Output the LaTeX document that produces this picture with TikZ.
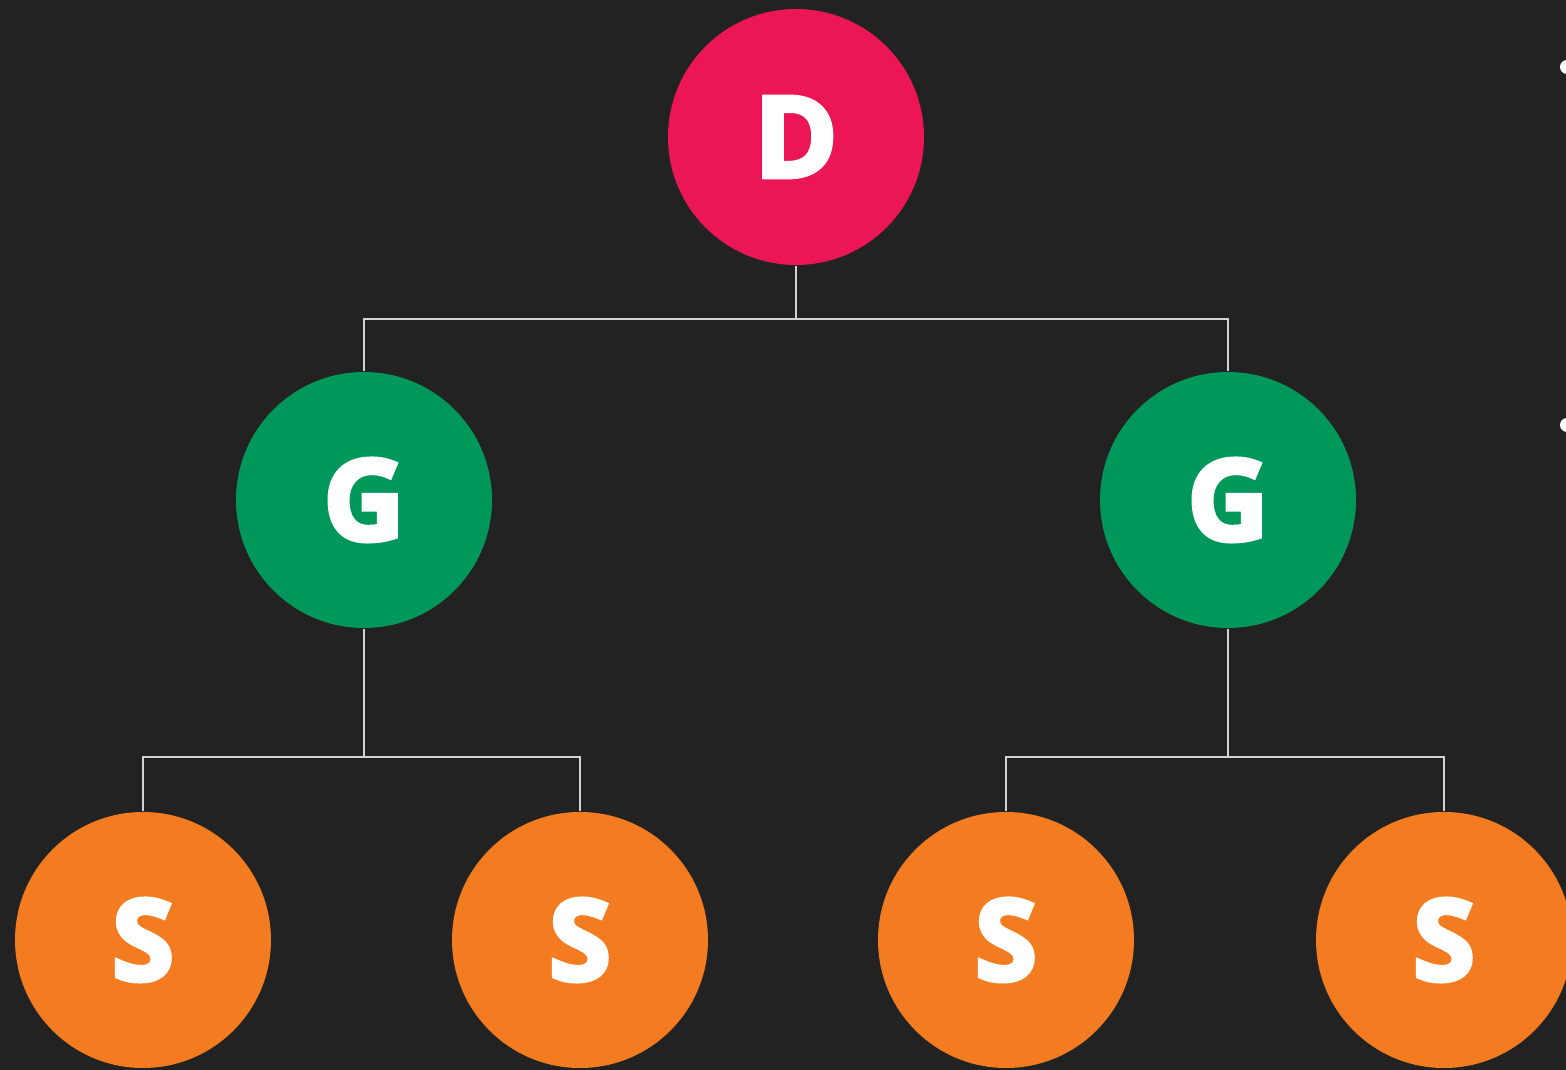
\documentclass[tikz,border=0pt]{standalone}
\usepackage{fontspec}
\setmainfont{Open Sans}
\newfontfamily\ballfont[BoldFeatures={FakeBold=4}]{Open Sans}
\usepackage{tikz}
\usepackage{xcolor}
\definecolor{slidebg}{HTML}{222222}
\definecolor{dred}{HTML}{EC1654}
\definecolor{ggreen}{HTML}{00975B}
\definecolor{sorange}{HTML}{F47C20}
\definecolor{wiregray}{HTML}{D2D2D2}
\tikzset{
  ball/.style={circle,minimum size=2.56cm,inner sep=0pt,text=white,
    font=\ballfont\fontsize{32}{32}\selectfont\bfseries},
  wire/.style={color=wiregray,line width=0.7pt}
}

\begin{document}
\begin{tikzpicture}
          \fill[slidebg] (0,0) rectangle (15.66,10.70);
          \useasboundingbox (0,0) rectangle (15.66,10.70);

          \fill[white] (15.67,10.03) circle (0.07);
          \fill[white] (15.67,6.45) circle (0.07);

          \node[ball,fill=dred] (d) at (7.96,9.33) {D};
          \node[ball,fill=ggreen] (gl) at (3.64,5.70) {G};
          \node[ball,fill=ggreen] (gr) at (12.28,5.70) {G};
          \node[ball,fill=sorange] (s1) at (1.43,1.30) {S};
          \node[ball,fill=sorange] (s2) at (5.80,1.30) {S};
          \node[ball,fill=sorange] (s3) at (10.06,1.30) {S};
          \node[ball,fill=sorange] (s4) at (14.44,1.30) {S};

          \coordinate (jd) at (7.96,7.51);
          \coordinate (jl) at (3.64,3.13);
          \coordinate (jr) at (12.28,3.13);

          \draw[wire] (d.south) -- (jd);
          \draw[wire] (gl.north) |- (jd) -| (gr.north);
          \draw[wire] (gl.south) -- (jl);
          \draw[wire] (s1.north) |- (jl) -| (s2.north);
          \draw[wire] (gr.south) -- (jr);
          \draw[wire] (s3.north) |- (jr) -| (s4.north);
        \end{tikzpicture}
\end{document}
